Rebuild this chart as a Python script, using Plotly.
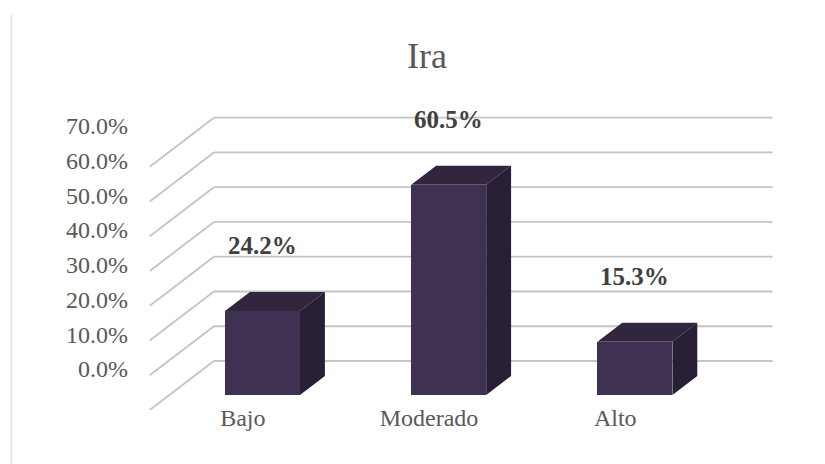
import plotly.graph_objects as go

# ---- data ----
categories = ["Bajo", "Moderado", "Alto"]
values = [24.2, 60.5, 15.3]
value_labels = ["24.2%", "60.5%", "15.3%"]
tick_values = [0, 10, 20, 30, 40, 50, 60, 70]
tick_labels = ["0.0%", "10.0%", "20.0%", "30.0%", "40.0%", "50.0%", "60.0%", "70.0%"]
title_text = "Ira"

# ---- page / figure geometry (page body has an 8px margin) ----
PAGE = 8
FIG_W, FIG_H = 825 - PAGE, 464 - PAGE
PLOT_L, PLOT_B = 140, 410          # screen px of plot-area left and bottom
BAR_BASE = 395                     # screen px of bar front-face base
CAT0 = 262.5                       # screen px of first category centre

# ---- 3D (oblique) geometry ----
PX_PER_CAT = 186.2
PX_PER_PCT = 3.476
SLANT = 1.31
BAR_W = 75 / PX_PER_CAT
BAR_DEPTH = 19
WALL = 34
FRONT = -15
TICK_DEPTH = 26

def off(r):
    return SLANT * r / PX_PER_CAT, r / PX_PER_PCT

FRONT_FACE = "#3f3152"
TOP_FACE = "#32263f"
SIDE_FACE = "#281e35"
GRID = "#c4c4c4"

xs = list(range(len(categories)))
fig = go.Figure()

fig.add_trace(go.Bar(x=xs, y=values, width=BAR_W, marker=dict(color=FRONT_FACE, line=dict(width=0)),
                     hoverinfo="skip", showlegend=False))

dxb, dyb = off(BAR_DEPTH)
top_x, top_y, side_x, side_y = [], [], [], []
for i, v in zip(xs, values):
    l, r = i - BAR_W / 2, i + BAR_W / 2
    top_x += [l, r, r + dxb, l + dxb, l, None]
    top_y += [v, v, v + dyb, v + dyb, v, None]
    side_x += [r, r, r + dxb, r + dxb, r, None]
    side_y += [0, v, v + dyb, dyb, 0, None]
fig.add_trace(go.Scatter(x=top_x, y=top_y, fill="toself", fillcolor=TOP_FACE, mode="lines",
                         line=dict(width=0, color=TOP_FACE), hoverinfo="skip", showlegend=False))
fig.add_trace(go.Scatter(x=side_x, y=side_y, fill="toself", fillcolor=SIDE_FACE, mode="lines",
                         line=dict(width=0, color=SIDE_FACE), hoverinfo="skip", showlegend=False))

floor_l, floor_r = -0.5, len(categories) - 0.5
dxw, dyw = off(WALL)
dxf, dyf = off(FRONT)
shapes = []
for t in tick_values:
    shapes.append(dict(type="line", xref="x", yref="y", layer="below",
                       x0=floor_l + dxw, y0=t + dyw, x1=floor_r + dxw, y1=t + dyw,
                       line=dict(color=GRID, width=1.8)))
    shapes.append(dict(type="line", xref="x", yref="y", layer="below",
                       x0=floor_l + dxf, y0=t + dyf, x1=floor_l + dxw, y1=t + dyw,
                       line=dict(color=GRID, width=1.8)))

plot_w = 825 - PLOT_L
plot_h = PLOT_B - PAGE
# chart frame line at left (screen x 11.5, from y 15 to bottom)
fx = (11.5 - PLOT_L) / plot_w
shapes.append(dict(type="line", xref="paper", yref="paper", x0=fx, x1=fx,
                   y0=(PLOT_B - 470) / plot_h, y1=(PLOT_B - 15) / plot_h,
                   line=dict(color="#e0e0e0", width=1.5)))

annotations = []
for i, v, lab in zip(xs, values, value_labels):
    annotations.append(dict(x=i, y=v, xref="x", yref="y", text="<b>%s</b>" % lab, showarrow=False,
                            yshift=65, font=dict(family="Liberation Serif", size=25, color="#404040")))

tdx, tdy = off(TICK_DEPTH)
fig.update_layout(
    width=FIG_W, height=FIG_H,
    margin=dict(l=PLOT_L - PAGE, r=0, t=0, b=FIG_H - (PLOT_B - PAGE)),
    paper_bgcolor="white", plot_bgcolor="white",
    title=dict(text=title_text, x=(427 - PAGE) / FIG_W, xanchor="center", y=1 - (55 - PAGE) / FIG_H,
               yanchor="middle", font=dict(family="Liberation Serif", size=36, color="#595959")),
    xaxis=dict(range=[(PLOT_L - CAT0) / PX_PER_CAT, (825 - CAT0) / PX_PER_CAT],
               tickvals=[i + dxf for i in xs], ticktext=categories, showgrid=False, zeroline=False,
               showline=False, ticks="", ticklabelstandoff=-9,
               tickfont=dict(family="Liberation Serif", size=24, color="#595959")),
    yaxis=dict(range=[(BAR_BASE - PLOT_B) / PX_PER_PCT, (BAR_BASE - PAGE) / PX_PER_PCT],
               tickvals=[t + tdy for t in tick_values], ticktext=tick_labels, showgrid=False,
               zeroline=False, showline=False, ticks="", ticklabelstandoff=11,
               tickfont=dict(family="Liberation Serif", size=24, color="#595959")),
    shapes=shapes, annotations=annotations, showlegend=False, bargap=0,
)

fig.write_html("out.html")
